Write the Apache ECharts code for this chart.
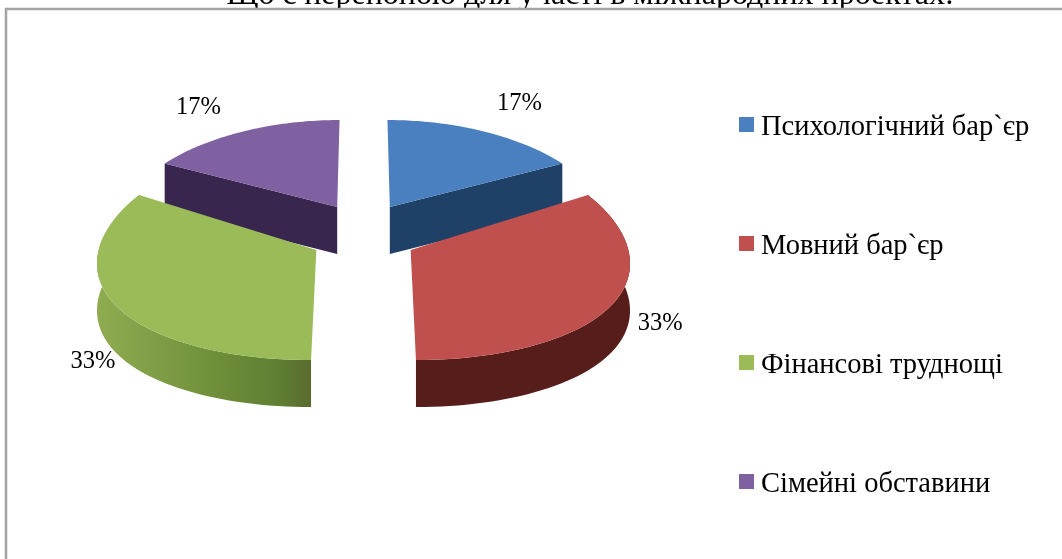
<!DOCTYPE html>
<html><head><meta charset="utf-8">
<style>html,body{margin:0;padding:0;background:#fff}#c{width:1062px;height:559px}</style>
<script src="https://cdn.jsdelivr.net/npm/echarts@6/dist/echarts.min.js"></script>
</head><body><div id="c"></div>
<script>
const titleText = 'Що є перепоною для участі в міжнародних проектах:';
const categories = ['Психологічний бар`єр', 'Мовний бар`єр', 'Фінансові труднощі', 'Сімейні обставини'];
const values = [1, 2, 2, 1];
const topColors = ['#4a80bf', '#c0504d', '#9bbb59', '#7f60a0'];
const sideColors = ['#1f4168', '#561d1b', '#6f8c38', '#38264f'];
const labelNudge = [[7.5, -4], [-20.5, 1], [46.6, 39], [-16.5, 0]];

// projection of the exploded, tilted pie
const CX = 363.5, CY = 234.3, R = 215, KX = 0.10, EXPLODE = 0.25, EXPLODE_Y = 0.325, DEPTH = 47;
const APEX_VR = 96.8, RY0 = 101.6, RY_SLOPE = 51.8;
const total = values.reduce((a, b) => a + b, 0);
const arcs = [];
values.reduce((acc, v) => { arcs.push([acc / total * 2 * Math.PI, (acc + v) / total * 2 * Math.PI]); return acc + v; }, 0);

function proj(i, th, r) {
  const mid = (arcs[i][0] + arcs[i][1]) / 2;
  const X = EXPLODE * Math.sin(mid) + r * Math.sin(th);
  const Yx = EXPLODE * Math.cos(mid) + r * Math.cos(th);
  const Y0 = EXPLODE_Y * Math.cos(mid);
  return [CX + R * X / (1 + KX * Yx), CY - APEX_VR * Y0 - (RY0 - RY_SLOPE * Y0) * r * Math.cos(th)];
}
function down(p) { return [p[0], p[1] + DEPTH]; }

function renderSlice(i) {
  return function () {
    const [a0, a1] = arcs[i];
    const mid = (a0 + a1) / 2;
    const N = 60, rim = [], apex = proj(i, 0, 0);
    for (let k = 0; k <= N; k++) rim.push(proj(i, a0 + (a1 - a0) * k / N, 1));
    const children = [];
    if (Math.cos(mid) > 0) {
      // back slices: only the cut face turned towards the viewer shows
      [[a0, rim[0]], [a1, rim[N]]].forEach(([th, p]) => {
        if (Math.abs(Math.sin(th)) > 0.01) {
          children.push({ type: 'polygon', shape: { points: [apex, p, down(p), down(apex)] }, style: { fill: sideColors[i] } });
        }
      });
    } else {
      // front slices: the outer rim wall shows
      const wallFill = (i === 2)
        ? new echarts.graphic.LinearGradient(0, 0, 1, 0, [
            { offset: 0, color: '#8fac50' }, { offset: 0.55, color: '#6f8f3a' },
            { offset: 0.85, color: '#5f7f33' }, { offset: 1, color: '#5a6a2e' }])
        : sideColors[i];
      const pts = rim.concat(rim.slice().reverse().map(down));
      children.push({ type: 'polygon', shape: { points: pts }, style: { fill: wallFill } });
    }
    // top face
    children.push({ type: 'polygon', shape: { points: [apex].concat(rim) }, style: { fill: topColors[i] } });
    // percentage label
    const lp = proj(i, mid, 1.32);
    children.push({ type: 'text', x: lp[0] + labelNudge[i][0], y: lp[1] + labelNudge[i][1],
      style: { text: Math.round(values[i] / total * 100) + '%', font: '24.5px "Liberation Serif"', fill: '#000', align: 'center', verticalAlign: 'middle' } });
    return { type: 'group', children };
  };
}

const sliceZ = [1, 2, 2, 1];
const chart = echarts.init(document.getElementById('c'), null, { renderer: 'canvas' });
chart.setOption({
  animation: false,
  backgroundColor: '#fff',
  legend: {
    orient: 'vertical', left: 739, top: 107, itemWidth: 15, itemHeight: 15, itemGap: 84, icon: 'rect',
    selectedMode: false, padding: 0,
    data: categories,
    formatter: '{t|{name}}',
    textStyle: {
      rich: { t: { fontFamily: 'Liberation Serif', fontSize: 28.5, color: '#000', padding: [6, 0, 0, 2], lineHeight: 29 } }
    }
  },
  graphic: [
    { type: 'text', z: 0, silent: true, x: 590, y: 12, style: { text: titleText, font: '32px "Liberation Serif"', fill: '#000', align: 'center', verticalAlign: 'bottom' } },
    { type: 'rect', z: 0.5, silent: true, shape: { x: 6, y: 9, width: 1300, height: 800 }, style: { fill: '#fff', stroke: '#a3a3a3', lineWidth: 2.5 } }
  ],
  series: categories.map((name, i) => ({
    type: 'custom', name, coordinateSystem: 'none', z: sliceZ[i], silent: true,
    itemStyle: { color: topColors[i] },
    data: [values[i]],
    renderItem: renderSlice(i)
  }))
});
</script></body></html>
